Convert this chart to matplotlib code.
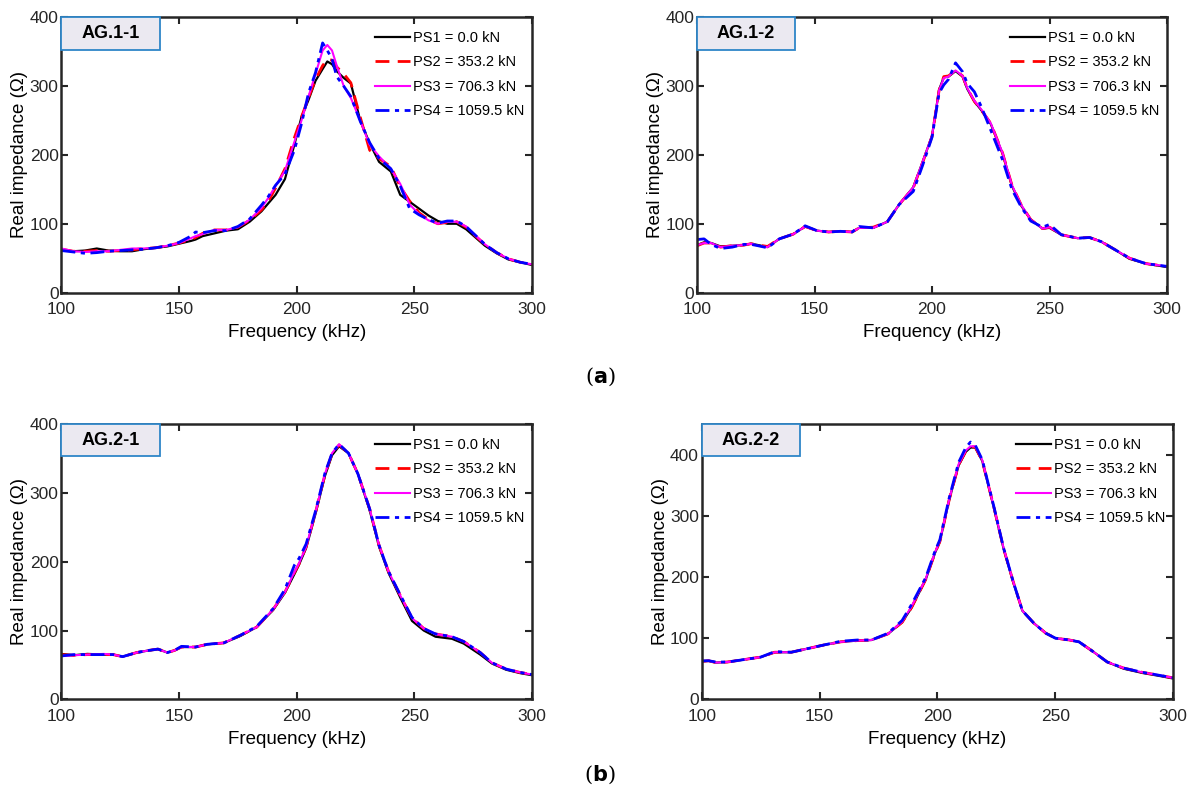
import matplotlib
matplotlib.use('Agg')
import matplotlib.pyplot as plt
from matplotlib.patches import Rectangle

plt.rcParams['font.family'] = ['Liberation Sans', 'DejaVu Sans']

labels = ['PS1 = 0.0 kN', 'PS2 = 353.2 kN', 'PS3 = 706.3 kN', 'PS4 = 1059.5 kN']

# ---- AG.1-1 ----
f11 = [100, 105, 110, 115, 120, 125, 130, 135, 140, 145, 150, 155, 157, 160, 165, 170, 175, 180, 185, 188,
       191, 195, 199, 202, 205, 208, 211, 213, 215, 217, 220, 223, 227, 231, 235, 240, 244, 248, 252, 256,
       260, 264, 268, 272, 276, 280, 285, 290, 295, 300]
ps1_11 = [62, 60, 61, 64, 61, 60, 60, 63, 65, 67, 71, 75, 77, 82, 86, 90, 92, 103, 118, 130,
          142, 165, 215, 255, 280, 308, 325, 336, 332, 322, 312, 304, 250, 217, 190, 176, 142, 132, 122, 112,
          104, 100, 100, 92, 80, 68, 57, 48, 44, 40]
ps2_11 = [63, 60, 60, 61, 60, 61, 62, 64, 65, 68, 72, 77, 80, 86, 91, 91, 95, 105, 120, 133,
          152, 180, 225, 255, 283, 310, 330, 339, 338, 328, 318, 305, 255, 207, 195, 183, 154, 133, 116, 106,
          100, 102, 103, 95, 82, 70, 58, 49, 44, 41]
ps3_11 = [64, 60, 59, 60, 60, 62, 64, 64, 65, 68, 72, 79, 82, 85, 91, 91, 95, 106, 123, 138,
          155, 177, 219, 250, 285, 318, 352, 360, 352, 330, 300, 283, 250, 215, 198, 180, 158, 128, 114, 105,
          100, 103, 103, 96, 83, 70, 58, 49, 44, 41]
ps4_11 = [61, 59, 57, 58, 60, 61, 62, 63, 65, 68, 73, 82, 88, 87, 90, 90, 96, 107, 127, 140,
          156, 172, 207, 245, 290, 320, 363, 352, 340, 314, 300, 285, 249, 218, 195, 180, 155, 122, 113, 106,
          101, 104, 104, 96, 83, 70, 58, 49, 44, 41]

# ---- AG.1-2 ----
f12 = [100, 103, 106, 110, 115, 120, 123, 126, 130, 135, 141, 146, 151, 156, 161, 166, 169, 175, 181, 186,
       192, 196, 200, 203, 205, 207, 210, 213, 215, 218, 221, 225, 230, 234, 238, 242, 247, 250, 255, 262,
       267, 272, 278, 284, 291, 300]
ps1_12 = [69, 73, 72, 67, 68, 69, 71, 69, 66, 78, 85, 96, 90, 88, 89, 88, 94, 94, 103, 128,
          153, 190, 228, 295, 313, 314, 322, 314, 296, 278, 265, 245, 202, 155, 126, 106, 93, 94, 84, 79,
          80, 74, 62, 49, 42, 37]
ps2_12 = [68, 72, 72, 66, 68, 69, 71, 69, 67, 78, 85, 96, 90, 88, 89, 88, 94, 95, 103, 128,
          152, 189, 227, 294, 314, 315, 323, 315, 297, 278, 265, 246, 203, 156, 127, 106, 93, 95, 84, 79,
          80, 74, 62, 50, 42, 38]
ps3_12 = [69, 72, 72, 66, 68, 69, 71, 68, 66, 78, 85, 96, 90, 88, 89, 88, 94, 94, 103, 128,
          153, 190, 228, 294, 312, 314, 323, 315, 297, 279, 266, 246, 203, 156, 127, 106, 93, 95, 84, 79,
          80, 74, 62, 50, 42, 38]
ps4_12 = [77, 78, 70, 64, 66, 70, 70, 68, 65, 78, 85, 97, 90, 88, 89, 88, 96, 94, 103, 128,
          147, 185, 226, 290, 302, 310, 334, 321, 304, 292, 270, 236, 193, 150, 124, 104, 95, 99, 84, 79,
          80, 74, 62, 50, 42, 38]

# ---- AG.2-1 ----
f21 = [100, 105, 111, 118, 122, 126, 132, 137, 141, 145, 148, 151, 157, 162, 169, 176, 183, 190, 195, 199,
       201, 204, 208, 212, 215, 218, 222, 226, 231, 235, 239, 244, 249, 254, 259, 266, 271, 278, 283, 289,
       295, 300]
ps1_21 = [66, 64, 66, 65, 65, 62, 68, 71, 73, 68, 71, 76, 76, 80, 82, 92, 105, 130, 155, 182,
          196, 220, 270, 325, 355, 368, 358, 328, 275, 222, 184, 148, 114, 100, 91, 88, 81, 65, 52, 43,
          38, 35]
ps2_21 = [65, 64, 65, 65, 65, 62, 68, 71, 73, 68, 71, 76, 76, 80, 82, 93, 105, 131, 156, 184,
          197, 222, 272, 327, 357, 370, 358, 328, 277, 224, 186, 151, 118, 103, 95, 91, 84, 68, 53, 44,
          39, 36]
ps3_21 = [63, 64, 65, 66, 65, 62, 68, 71, 73, 68, 71, 76, 76, 80, 82, 93, 105, 131, 156, 185,
          198, 222, 272, 328, 358, 371, 358, 328, 277, 224, 186, 151, 118, 103, 95, 91, 84, 68, 53, 44,
          39, 36]
ps4_21 = [63, 65, 65, 65, 65, 62, 68, 71, 73, 68, 71, 77, 76, 80, 82, 93, 106, 132, 160, 195,
          205, 226, 274, 329, 358, 371, 358, 328, 277, 224, 186, 152, 119, 103, 95, 91, 84, 68, 53, 44,
          39, 36]

# ---- AG.2-2 ----
f22 = [100, 103, 106, 111, 118, 125, 131, 138, 145, 152, 159, 166, 172, 179, 185, 189, 195, 199, 201, 205,
       209, 212, 214, 216, 219, 224, 228, 232, 236, 241, 246, 250, 256, 260, 266, 272, 279, 287, 293, 300]
ps1_22 = [62, 63, 60, 61, 65, 69, 77, 77, 83, 89, 94, 96, 97, 107, 126, 150, 196, 240, 258, 327,
          383, 405, 412, 412, 390, 312, 247, 193, 145, 124, 108, 100, 97, 94, 78, 61, 50, 43, 39, 34]
ps2_22 = [62, 63, 60, 61, 65, 69, 77, 77, 83, 89, 94, 96, 97, 107, 126, 150, 196, 240, 258, 327,
          384, 406, 413, 413, 390, 313, 247, 194, 145, 124, 108, 100, 97, 94, 78, 61, 51, 44, 40, 35]
ps3_22 = [62, 63, 60, 61, 65, 69, 77, 77, 83, 89, 94, 96, 97, 107, 127, 152, 197, 241, 259, 328,
          385, 407, 414, 414, 391, 313, 248, 194, 145, 124, 108, 100, 97, 94, 78, 61, 51, 44, 40, 35]
ps4_22 = [63, 63, 61, 61, 65, 69, 78, 77, 83, 89, 95, 97, 97, 108, 129, 155, 199, 243, 261, 330,
          388, 412, 421, 416, 392, 314, 248, 194, 145, 124, 108, 100, 97, 94, 78, 61, 51, 44, 40, 35]

panels = [
    ('AG.1-1', f11, [ps1_11, ps2_11, ps3_11, ps4_11], 400, [0.0514, 0.6316, 0.3934, 0.3464]),
    ('AG.1-2', f12, [ps1_12, ps2_12, ps3_12, ps4_12], 400, [0.5828, 0.6316, 0.3930, 0.3464]),
    ('AG.2-1', f21, [ps1_21, ps2_21, ps3_21, ps4_21], 400, [0.0514, 0.1193, 0.3934, 0.3463]),
    ('AG.2-2', f22, [ps1_22, ps2_22, ps3_22, ps4_22], 450, [0.5867, 0.1193, 0.3943, 0.3463]),
]

styles = [
    dict(color='black', linestyle='-', linewidth=1.6),
    dict(color='red', linestyle=(0, (5, 3)), linewidth=2.0),
    dict(color='magenta', linestyle='-', linewidth=1.5),
    dict(color='blue', linestyle=(0, (5, 2, 1.5, 2)), linewidth=2.0),
]

fig = plt.figure(figsize=(11.96, 7.94), dpi=100)

for name, f, series, ymax, pos in panels:
    ax = fig.add_axes(pos)
    for vals, st, lab in zip(series, styles, labels):
        ax.plot(f, vals, label=lab, **st)
    ax.set_xlim(100, 300)
    ax.set_ylim(0, ymax)
    ax.set_xticks([100, 150, 200, 250, 300])
    ax.set_yticks([0, 100, 200, 300, 400])
    ax.tick_params(direction='in', top=True, right=True, length=5, width=1.5,
                   labelsize=12.5, colors='#262626')
    ax.tick_params(axis='x', pad=7)
    ax.tick_params(axis='y', pad=2)
    for sp in ax.spines.values():
        sp.set_linewidth(1.8)
        sp.set_color('#262626')
    ax.set_xlabel('Frequency (kHz)', fontsize=13.5, labelpad=5)
    ax.set_ylabel('Real impedance (\u03a9)', fontsize=13.5, labelpad=1)
    ax.legend(loc='upper right', bbox_to_anchor=(1.005, 0.988), frameon=False,
              handlelength=2.4, handletextpad=0.2, labelspacing=0.72,
              borderaxespad=0.3, prop={'size': 10.5})
    ax.add_patch(Rectangle((0, 0.883), 0.209, 0.117, transform=ax.transAxes,
                           facecolor='#ebe9f1', edgecolor='#2e86c8', linewidth=1.3,
                           zorder=5, clip_on=False))
    ax.text(0.1045, 0.9415, name, transform=ax.transAxes, ha='center', va='center',
            fontsize=13, fontweight='bold', zorder=6)

fig.text(0.5017, 0.525, r'($\mathbf{a}$)', ha='center', va='center', fontsize=15, family='DejaVu Serif')
fig.text(0.5017, 0.024, r'($\mathbf{b}$)', ha='center', va='center', fontsize=15, family='DejaVu Serif')

fig.savefig('out.png', dpi=100)
